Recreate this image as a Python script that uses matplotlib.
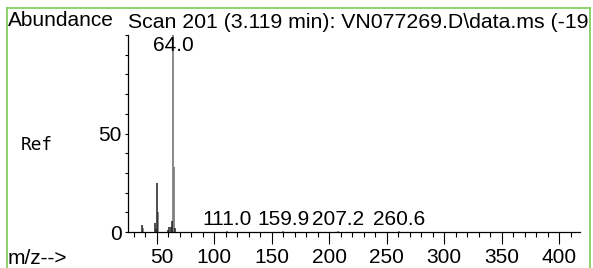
import matplotlib
matplotlib.use("Agg")
import matplotlib.pyplot as plt
from matplotlib.lines import Line2D
from matplotlib.transforms import ScaledTranslation

# ---- data ----
mz_dark = [37, 48, 49, 50, 60, 61, 62, 63, 66]
ab_dark = [3.6, 4.7, 1.5, 25.0, 1.2, 2.5, 2.5, 5.8, 2.0]
mz_gray = [38, 51, 64, 65, 111.0, 159.9, 207.2, 260.6]
ab_gray = [2.0, 10.0, 100.0, 33.0, 0.3, 0.3, 0.3, 0.3]

peak_label_mz = [64.0, 111.0, 159.9, 207.2, 260.6]
peak_label_y = [90, 1.5, 1.5, 1.5, 1.5]
peak_label_txt = ["64.0", "111.0", "159.9", "207.2", "260.6"]

xticks_major = [50, 100, 150, 200, 250, 300, 350, 400]
xtick_labels = ["50", "100", "150", "200", "250", "300", "350", "400"]
yticks_major = [0, 50]
ytick_labels = ["0", "50"]

title = "Scan 201 (3.119 min): VN077269.D\\data.ms (-19"

W, H = 593, 268
fig = plt.figure(figsize=(W / 100, H / 100), dpi=100)
plt.rcParams['font.family'] = ['Liberation Sans', 'DejaVu Sans']
FS = 15

ax = fig.add_axes([127.5 / W, 1 - 232 / H, (580 - 127.5) / W, (232 - 35) / H])
ax.set_xlim(24.5, 418)
ax.set_ylim(0, 100)
for s in ['top', 'right']:
    ax.spines[s].set_visible(False)
for s in ['left', 'bottom']:
    ax.spines[s].set_linewidth(0.9)
    ax.spines[s].set_color('black')

ax.vlines(mz_dark, 0, ab_dark, colors='#1e1e1e', lw=1.1, zorder=3)
ax.vlines(mz_gray, 0, ab_gray, colors='#808080', lw=1.3, zorder=2)

for x, y, t in zip(peak_label_mz, peak_label_y, peak_label_txt):
    ax.text(x, y, t, ha='center', va='bottom', fontsize=FS, zorder=4)

ax.set_xticks(xticks_major)
ax.set_xticklabels(xtick_labels)
ax.set_xticks([v for v in range(30, 420, 10) if v % 50 != 0], minor=True)
ax.tick_params(axis='x', which='major', direction='out', length=8.6, width=0.8,
               labelsize=FS, pad=3)
ax.tick_params(axis='x', which='minor', direction='out', length=3.6, width=0.8)
ax.set_yticks(yticks_major)
ax.set_yticklabels(ytick_labels)
ax.set_yticks(list(range(10, 101, 10)), minor=True)
ax.tick_params(axis='y', which='both', direction='out', length=2.2, width=0.8,
               labelsize=FS, pad=2)
# shift two-digit label like original layout
lbl = ax.get_xticklabels()[0]
lbl.set_transform(lbl.get_transform() + ScaledTranslation(5 / 100, 0, fig.dpi_scale_trans))

fig.text(8 / W, 1 - 20 / H, "Abundance", ha='left', va='center', fontsize=FS)
fig.text(127.5 / W, 1 - 23 / H, title, ha='left', va='center', fontsize=15.3)
fig.text(37 / W, 1 - 145 / H, "Ref", ha='center', va='center', fontsize=12.8,
         family=['DejaVu Sans Mono'])
fig.text(8 / W, 1 - 258 / H, "m/z-->", ha='left', va='center', fontsize=FS)

green = '#7dcc55'
fig.add_artist(Line2D([6.5 / W, 6.5 / W], [0, 1 - 8 / H], transform=fig.transFigure, color=green, lw=1.2))
fig.add_artist(Line2D([6.5 / W, 590 / W], [1 - 8 / H, 1 - 8 / H], transform=fig.transFigure, color=green, lw=1.2))
fig.add_artist(Line2D([590 / W, 590 / W], [0, 1 - 8 / H], transform=fig.transFigure, color=green, lw=1.2))

fig.savefig("out.png", dpi=100)
